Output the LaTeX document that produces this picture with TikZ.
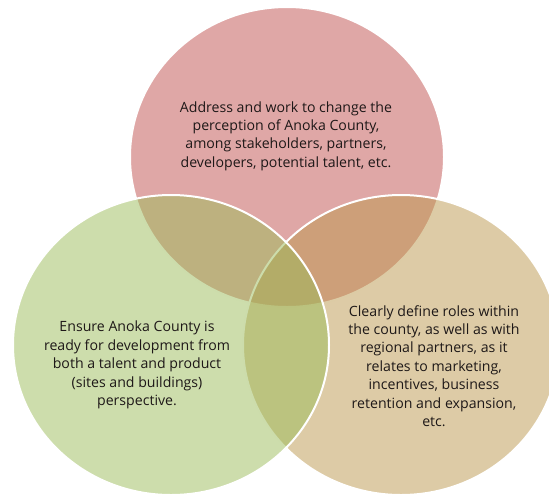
\documentclass[tikz,border=0pt]{standalone}
\usepackage{fontspec}
\setmainfont{Open Sans}
\definecolor{vennRed}{RGB}{192,80,77}
\definecolor{vennGreen}{RGB}{155,187,89}
\definecolor{vennTan}{RGB}{187,152,77}
\definecolor{vennText}{RGB}{30,24,24}
\begin{document}
\begin{tikzpicture}[x=0.75pt,y=0.75pt,yscale=-1,xscale=1,
  venn/.style={draw=white,line width=1.5pt,fill opacity=0.5},
  vtext/.style={align=center,text=vennText,inner sep=0pt,font=\fontsize{10.6}{13.8}\selectfont}]
\useasboundingbox (0,0) rectangle (549,494);
\clip (0,0) rectangle (549,494);

% Circle
\draw [venn, fill=vennRed] (287,157) circle [x radius=157, y radius=150];
% Circle
\draw [venn, fill=vennTan] (401,345) circle [x radius=158, y radius=150];
% Circle
\draw [venn, fill=vennGreen] (171,345) circle [x radius=158, y radius=150];

% Text Node
\node [vtext] (perception) at (286,136) {Address and work to change the\\perception of Anoka County,\\among stakeholders, partners,\\developers, potential talent, etc.};
% Text Node
\node [vtext] (readiness) at (137,365) {Ensure Anoka County is\\ready for development from\\both a talent and product\\(sites and buildings)\\perspective.};
% Text Node
\node [vtext] (roles) at (434,366) {Clearly define roles within\\the county, as well as with\\regional partners, as it\\relates to marketing,\\incentives, business\\retention and expansion,\\etc.};

\end{tikzpicture}
\end{document}
